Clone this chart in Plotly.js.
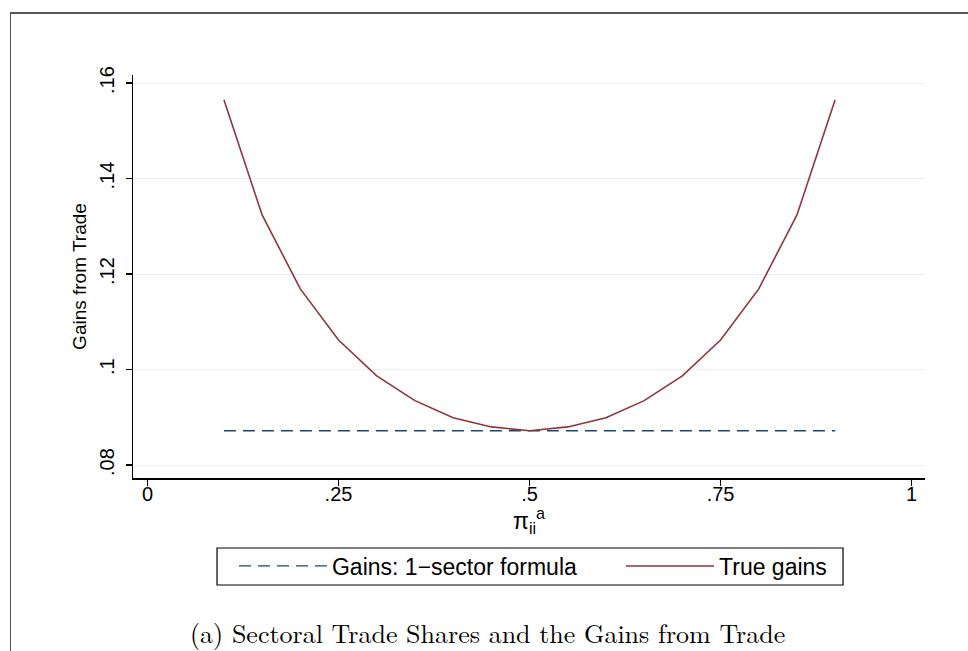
<!DOCTYPE html>
<html>
<head>
<meta charset="utf-8">
<script src="https://cdn.plot.ly/plotly-3.0.1.min.js"></script>
<style>
  html, body { margin: 0; padding: 0; background: #fff; }
  #wrap { position: relative; width: 968px; height: 651px; overflow: hidden; }
  #chart { position: absolute; left: 0; top: 0; width: 968px; height: 651px; }
  #frame { position: absolute; left: 10px; top: 12px; width: 1000px; height: 700px;
           border-top: 2px solid #555; border-left: 1.5px solid #555; pointer-events: none; }
</style>
</head>
<body>
<div id="wrap">
  <div id="chart"></div>
  <div id="frame"></div>
</div>
<script>
// Data
const piShare = [0.10, 0.15, 0.20, 0.25, 0.30, 0.35, 0.40, 0.45, 0.50, 0.55, 0.60, 0.65, 0.70, 0.75, 0.80, 0.85, 0.90];
const trueGains = [0.1565, 0.1324, 0.1169, 0.1062, 0.0987, 0.0935, 0.0899, 0.0880, 0.0872, 0.0880, 0.0899, 0.0935, 0.0987, 0.1062, 0.1169, 0.1324, 0.1565];
const oneSectorGains = [0.0872, 0.0872, 0.0872, 0.0872, 0.0872, 0.0872, 0.0872, 0.0872, 0.0872, 0.0872, 0.0872, 0.0872, 0.0872, 0.0872, 0.0872, 0.0872, 0.0872];
const xTickVals = [0, 0.25, 0.5, 0.75, 1];
const xTickText = ["0", ".25", ".5", ".75", "1"];
const yTickVals = [0.08, 0.10, 0.12, 0.14, 0.16];
const yTickText = [".08", ".1", ".12", ".14", ".16"];
const seriesNames = ["Gains: 1\u2212sector formula", "True gains"];
const captionText = "(a) Sectoral Trade Shares and the Gains from Trade";

const sans = "Liberation Sans, Arial, Helvetica, sans-serif";
const serif = "Latin Modern Roman, DejaVu Serif, Liberation Serif, serif";

const traces = [
  { x: piShare, y: oneSectorGains, type: "scatter", mode: "lines", name: seriesNames[0],
    legend: "legend",
    line: { color: "rgb(26,71,111)", width: 1.3, dash: "12px,7px" } },
  { x: piShare, y: trueGains, type: "scatter", mode: "lines", name: seriesNames[1],
    legend: "legend2",
    line: { color: "rgb(144,53,59)", width: 1.6 } }
];

const legendCommon = {
  orientation: "h", yanchor: "middle", y: -0.2184, xanchor: "left",
  bgcolor: "rgba(0,0,0,0)", borderwidth: 0,
  font: { family: sans, size: 23, color: "#000" },
  itemwidth: 88
};

const layout = {
  width: 968, height: 651,
  paper_bgcolor: "rgba(0,0,0,0)", plot_bgcolor: "#fff",
  margin: { l: 133, r: 43, t: 75, b: 173 },
  showlegend: true,
  legend: Object.assign({}, legendCommon, { x: 0.1275 }),
  legend2: Object.assign({}, legendCommon, { x: 0.6162 }),
  shapes: [
    { type: "rect", xref: "paper", yref: "paper", x0: 0.1061, x1: 0.8965, y0: -0.1737, y1: -0.2655,
      line: { color: "#000", width: 1.2 }, fillcolor: "rgba(0,0,0,0)", layer: "below" }
  ],
  xaxis: {
    range: [-0.019, 1.0176], tickvals: xTickVals, ticktext: xTickText,
    showgrid: false, zeroline: false, showline: true, linecolor: "#000", linewidth: 1.5,
    ticks: "outside", ticklen: 6, tickcolor: "#000", tickwidth: 1.3,
    tickfont: { family: sans, size: 20, color: "#000" },
    ticklabelstandoff: -9,
    title: { text: "\u03c0<sub>ii</sub><sup>a</sup>", font: { family: sans, size: 23, color: "#000" }, standoff: 0 }
  },
  yaxis: {
    range: [0.0773, 0.1617], tickvals: yTickVals, ticktext: yTickText, tickangle: -90,
    showgrid: true, gridcolor: "#e8eff1", gridwidth: 1, zeroline: false,
    showline: true, linecolor: "#000", linewidth: 1.5,
    ticks: "outside", ticklen: 6, tickcolor: "#000", tickwidth: 1.3,
    tickfont: { family: sans, size: 20, color: "#000" },
    ticklabelstandoff: 4,
    title: { text: "Gains from Trade", font: { family: sans, size: 19, color: "#000" }, standoff: 4 }
  },
  annotations: [
    { text: captionText, xref: "paper", yref: "paper", x: 0.448, y: -0.383,
      xanchor: "center", yanchor: "middle", showarrow: false,
      font: { family: serif, size: 26, color: "#000" } }
  ]
};

Plotly.newPlot("chart", traces, layout, { displayModeBar: false, staticPlot: true });
</script>
</body>
</html>
